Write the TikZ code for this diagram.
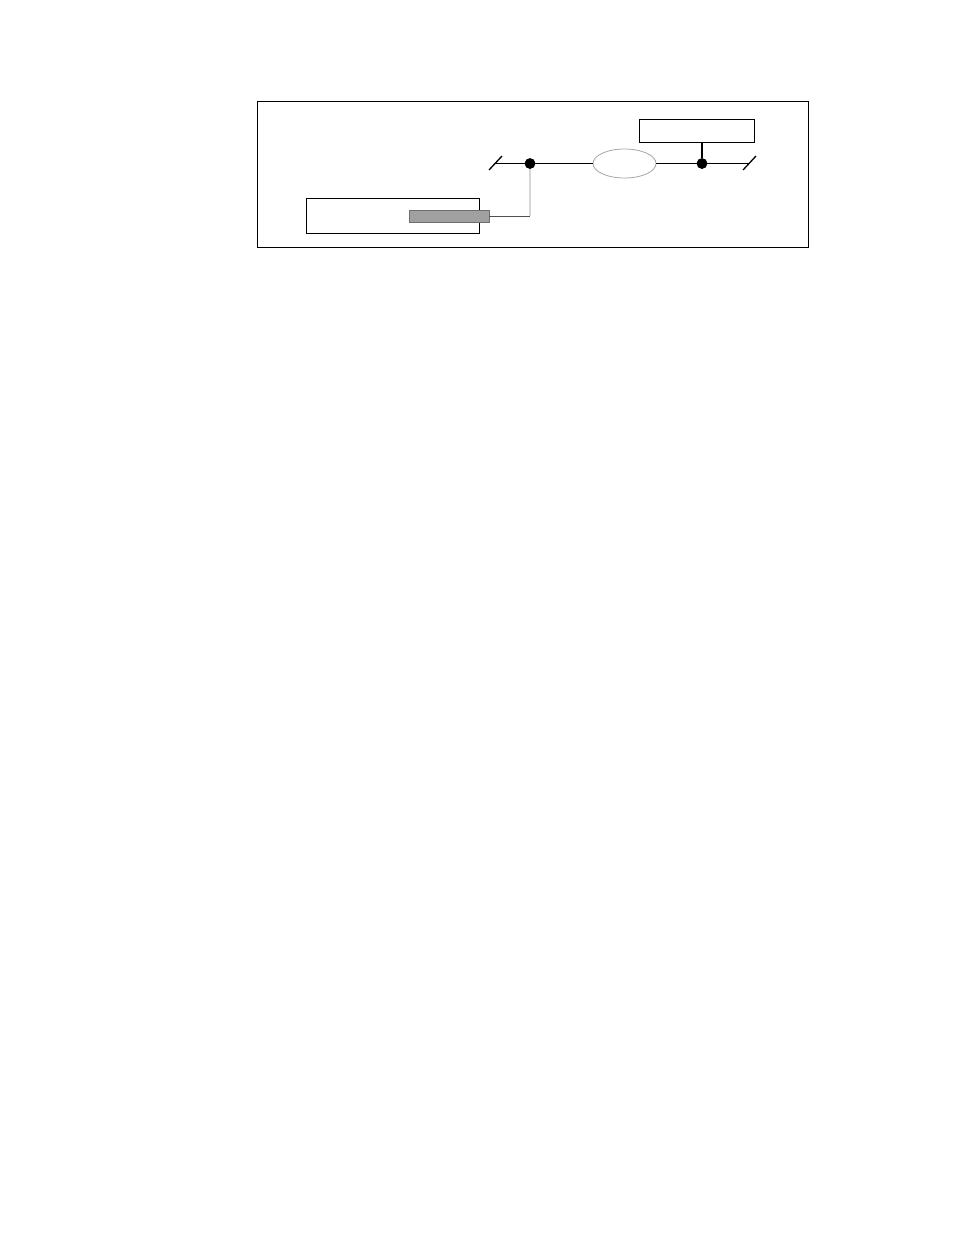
\documentclass[tikz,border=0pt]{standalone}
\usetikzlibrary{shapes.geometric}
\begin{document}
\begin{tikzpicture}[x=1pt,y=-1pt,
  frame/.style={draw=black,line width=1pt},
  boxst/.style={draw=black,line width=1pt},
  busline/.style={draw=black,line width=1.6pt},
  dotst/.style={fill=black,circle,inner sep=0pt,minimum size=10.5pt},
  cloud/.style={draw=gray!70,line width=0.8pt,ellipse,minimum width=63pt,minimum height=29pt,inner sep=0pt},
  bar/.style={fill={rgb,255:red,160;green,160;blue,160},draw={rgb,255:red,110;green,110;blue,110},line width=0.8pt},
  lightline/.style={draw={rgb,255:red,215;green,215;blue,215},line width=1.2pt},
  darkline/.style={draw={rgb,255:red,80;green,80;blue,80},line width=1pt}]
\useasboundingbox (0,0) rectangle (954,1235);
\fill[white] (0,0) rectangle (954,1235);
\draw[frame] (257,101) rectangle (808,247);
% top right box
\node[boxst,minimum width=115pt,minimum height=23pt,inner sep=0pt] (tbox) at (696.5,130.5) {};
% bottom box
\node[boxst,minimum width=173pt,minimum height=35pt,inner sep=0pt] (bbox) at (392.5,215.5) {};
% gray bar
\node[bar,minimum width=80pt,minimum height=12pt,inner sep=0pt] (gbar) at (449,216) {};
% bus line
\coordinate (lend) at (495,163.5);
\coordinate (rend) at (749,163.5);
\node[cloud] (cl) at (624.5,163.5) {};
\node[dotst] (d1) at (530,163.5) {};
\node[dotst] (d2) at (702,163.5) {};
\draw[busline] (lend) -- (d1) -- (cl.west);
\draw[busline] (cl.east) -- (d2) -- (rend);
\draw[line width=1.3pt] (489,170) -- (502,156);
\draw[line width=1.3pt] (743,170) -- (756,156);
\draw[line width=1.2pt] (d2) -- (d2 |- tbox.south);
% connection from bar to dot
\coordinate (corner) at (530,216);
\draw[darkline] (gbar.east) -- (corner);
\draw[lightline] (corner) -- (d1);
\node[dotst] at (d1) {};
\node[dotst] at (d2) {};
\end{tikzpicture}
\end{document}
